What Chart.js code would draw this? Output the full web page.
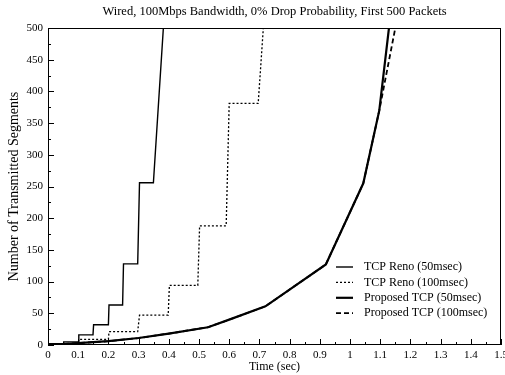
<!DOCTYPE html>
<html>
<head>
<meta charset="utf-8">
<script src="https://cdn.jsdelivr.net/npm/chart.js@4.4.1/dist/chart.umd.min.js"></script>
<style>
  html, body { margin: 0; padding: 0; background: #fff; }
</style>
</head>
<body>
<canvas id="myChart" width="505" height="375"></canvas>
<script>
// data (time in sec, segments)
const chartTitle = 'Wired, 100Mbps Bandwidth, 0% Drop Probability, First 500 Packets';
const seriesLabels = ["TCP Reno (50msec)", "TCP Reno (100msec)", "Proposed TCP (50msec)", "Proposed TCP (100msec)"];

const reno50Time = [0, 0.05, 0.052, 0.1, 0.102, 0.149, 0.151, 0.2, 0.202, 0.247, 0.25, 0.297, 0.303, 0.349, 0.382];
const reno50Segs = [2, 2, 5, 5, 16, 16, 32, 32, 63, 63, 128, 128, 256, 256, 500];

const reno100Time = [0, 0.1, 0.102, 0.2, 0.202, 0.297, 0.303, 0.398, 0.402, 0.496, 0.502, 0.59, 0.6, 0.696, 0.713];
const reno100Segs = [2, 2, 9, 9, 21, 21, 47, 47, 94, 94, 188, 188, 381, 381, 500];

const prop50Time = [0, 0.1, 0.2, 0.3, 0.4, 0.53, 0.6, 0.72, 0.92, 1.044, 1.097, 1.129];
const prop50Segs = [0, 3, 6, 11, 18, 28, 40, 61, 127, 255, 370, 500];

const prop100Time = [0, 0.1, 0.2, 0.3, 0.4, 0.53, 0.6, 0.72, 0.92, 1.044, 1.097, 1.15];
const prop100Segs = [0, 3, 6, 11, 18, 28, 40, 61, 127, 255, 370, 500];

const xTickLabels = ["0", "0.1", "0.2", "0.3", "0.4", "0.5", "0.6", "0.7", "0.8", "0.9", "1", "1.1", "1.2", "1.3", "1.4", "1.5"];
const yTickLabels = ["0", "50", "100", "150", "200", "250", "300", "350", "400", "450", "500"];

function pts(xs, ys) {
    return xs.map((x, i) => ({ x: x, y: ys[i] }));
}

const serif = "'Liberation Serif', 'Times New Roman', serif";
Chart.defaults.font.family = serif;
Chart.defaults.font.size = 11;
Chart.defaults.color = "#000";

// title, inward tick marks, frame and the in-plot legend
const framePlugin = {
    id: 'frame',
    afterDraw(chart) {
        const ctx = chart.ctx;
        const a = chart.chartArea;
        const xs = chart.scales.x, ys = chart.scales.y;
        ctx.save();
        ctx.fillStyle = '#000';
        ctx.font = "12.5px " + serif;
        ctx.textAlign = 'center';
        ctx.textBaseline = 'middle';
        ctx.fillText(chartTitle, (a.left + a.right) / 2, 11.5);

        ctx.strokeStyle = '#000';
        ctx.lineWidth = 1;
        ctx.setLineDash([]);
        ctx.strokeRect(a.left + 0.5, a.top + 0.5, a.right - a.left - 1, a.bottom - a.top - 1);
        ctx.beginPath();
        for (let v = 0; v <= 1.5001; v += 0.05) {
            const px = Math.round(xs.getPixelForValue(v)) + 0.5;
            const major = Math.abs(v * 10 - Math.round(v * 10)) < 0.01;
            ctx.moveTo(px, a.bottom);
            ctx.lineTo(px, a.bottom - (major ? 6 : 3));
        }
        for (let v = 0; v <= 500; v += 25) {
            const py = Math.round(ys.getPixelForValue(v)) + 0.5;
            ctx.moveTo(a.left, py);
            ctx.lineTo(a.left + (v % 50 === 0 ? 6 : 3), py);
        }
        ctx.stroke();

        // legend
        ctx.font = "12px " + serif;
        ctx.textAlign = 'left';
        chart.data.datasets.forEach((ds, i) => {
            const y = a.bottom - 78 + i * 15.4;
            const x0 = a.right - 165;
            ctx.beginPath();
            ctx.lineWidth = ds.borderWidth;
            ctx.setLineDash(ds.borderDash || []);
            ctx.moveTo(x0, y);
            ctx.lineTo(x0 + 17, y);
            ctx.stroke();
            ctx.setLineDash([]);
            ctx.fillText(ds.label, x0 + 28, y);
        });
        ctx.restore();
    }
};

new Chart(document.getElementById('myChart'), {
    type: 'line',
    data: {
        datasets: [
            { label: seriesLabels[0], data: pts(reno50Time, reno50Segs), borderColor: '#000', borderWidth: 1.4, pointRadius: 0 },
            { label: seriesLabels[1], data: pts(reno100Time, reno100Segs), borderColor: '#000', borderWidth: 1.3, borderDash: [2, 2], pointRadius: 0 },
            { label: seriesLabels[2], data: pts(prop50Time, prop50Segs), borderColor: '#000', borderWidth: 2.2, pointRadius: 0 },
            { label: seriesLabels[3], data: pts(prop100Time, prop100Segs), borderColor: '#000', borderWidth: 1.8, borderDash: [5, 3], pointRadius: 0 }
        ]
    },
    options: {
        responsive: false,
        animation: false,
        layout: { padding: { top: 28, right: 4, left: 0, bottom: 0 } },
        plugins: {
            legend: { display: false },
            tooltip: { enabled: false },
            title: { display: false }
        },
        scales: {
            x: {
                type: 'linear',
                min: 0, max: 1.5,
                grid: { display: false, drawTicks: false, tickLength: 0 },
                border: { display: false },
                ticks: {
                    stepSize: 0.1,
                    padding: 4,
                    maxRotation: 0,
                    autoSkip: false,
                    callback: (v, i) => xTickLabels[i]
                },
                title: { display: true, text: 'Time (sec)', font: { size: 12 }, padding: { top: 0, bottom: 1 } },
                afterFit: (s) => { s.height = 30; s.paddingLeft = 0; s.paddingRight = 0; }
            },
            y: {
                min: 0, max: 500,
                grid: { display: false, drawTicks: false, tickLength: 0 },
                border: { display: false },
                ticks: {
                    stepSize: 50,
                    padding: 5,
                    callback: (v, i) => yTickLabels[i]
                },
                title: { display: true, text: 'Number of Transmitted Segments', font: { size: 14 }, padding: { top: 5.5, bottom: 0 } },
                afterFit: (s) => { s.width = 48; s.paddingTop = 0; s.paddingBottom = 0; }
            }
        }
    },
    plugins: [framePlugin]
});
</script>
</body>
</html>
